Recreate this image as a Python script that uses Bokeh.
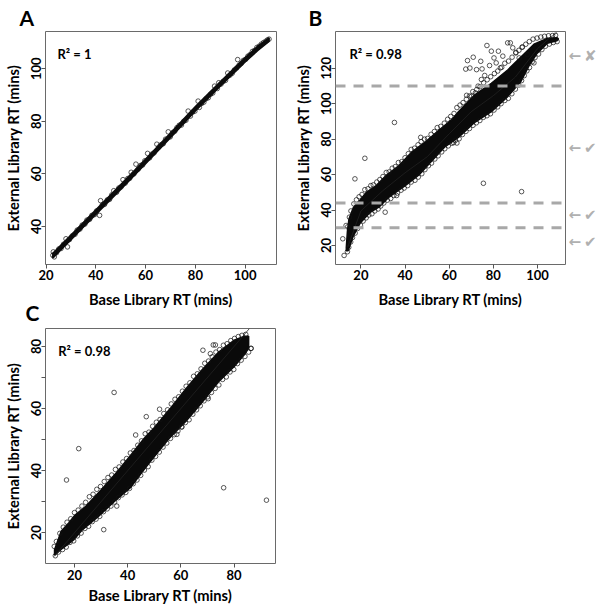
from bokeh.plotting import figure
from bokeh.layouts import column, row
from bokeh.models import Range1d, FixedTicker, Label, Span, LinearAxis
from bokeh.embed import file_html
from bokeh.resources import INLINE

# ---------------- data ----------------
# Panel A: narrow band (core) and individual points
A_band_x = [22.7, 30, 40, 50, 60, 70, 80, 90, 100, 105, 109.6]
A_band_hi = [29.8, 36.7, 46.3, 55.9, 65.7, 75.6, 85.6, 95.1, 104.3, 108.6, 111.8]
A_band_lo = [28.0, 34.9, 44.5, 54.1, 63.9, 73.8, 83.9, 93.4, 102.6, 106.9, 110.4]
A_pts = [(22.7, 29.0), (22.9, 30.3), (23.3, 28.4), (24.2, 30.0), (25.1, 31.4), (26.0, 31.6),
         (27.0, 33.2), (28.0, 35.3), (28.6, 32.2), (29.4, 35.0), (30.5, 36.4), (31.6, 37.0),
         (32.5, 38.6), (33.6, 39.0), (34.5, 40.5), (35.6, 40.9), (36.4, 42.4), (37.5, 42.7),
         (38.4, 44.2), (39.5, 44.5), (40.3, 45.9), (41.5, 44.2), (41.9, 49.8), (42.6, 48.2),
         (43.5, 48.4), (44.6, 50.1), (45.5, 50.3), (46.4, 52.0), (47.2, 53.6), (48.3, 53.0),
         (49.2, 54.6), (50.1, 55.0), (50.9, 57.8), (51.8, 56.5), (52.8, 58.2), (53.6, 58.3),
         (54.2, 60.6), (55.3, 60.0), (56.1, 63.7), (57.0, 61.8), (57.9, 63.2), (58.8, 63.4),
         (59.7, 65.0), (60.8, 67.8), (61.6, 66.1), (62.5, 67.5), (63.4, 68.0), (64.5, 71.3),
         (65.3, 70.2), (66.2, 71.1), (67.1, 71.5), (68.0, 73.2), (69.1, 76.0), (69.9, 74.1),
         (70.8, 75.7), (71.7, 76.2), (72.6, 77.6), (73.5, 78.5), (74.4, 78.6), (75.3, 80.0),
         (76.2, 80.4), (77.1, 83.9), (78.0, 82.0), (78.9, 83.5), (79.8, 83.9), (81.1, 87.7),
         (81.6, 85.3), (82.5, 86.8), (83.4, 87.3), (84.3, 88.6), (85.2, 89.0), (86.1, 90.3),
         (87.0, 90.8), (87.7, 93.4), (88.8, 92.5), (89.4, 94.7), (90.3, 94.2), (91.2, 95.2),
         (92.1, 95.6), (93.0, 98.4), (93.9, 97.6), (94.8, 98.3), (95.7, 99.6), (96.6, 100.3),
         (97.0, 103.5), (97.5, 101.3), (98.4, 102.0), (99.3, 103.2), (100.2, 103.6), (101.1, 104.8),
         (102.0, 105.4), (102.9, 106.6), (103.8, 107.0), (104.7, 108.1), (105.6, 108.6),
         (106.5, 109.4), (107.4, 110.0), (108.3, 110.5), (109.0, 111.0), (109.6, 111.3)]

# Panel B: dense core envelope, trend line, points
B_core_up = [(13.4, 19.0), (13.9, 28.0), (14.6, 35.0), (16.6, 41.5), (19.6, 45.5), (22.5, 50.0),
             (27.0, 53.8), (31.4, 59.5), (37.4, 65.2), (43.3, 73.0), (49.3, 78.5), (55.3, 85.0),
             (61.2, 91.0), (64.2, 95.5), (71.6, 105.0), (79.1, 111.5), (86.5, 119.0),
             (93.9, 128.0), (98.4, 133.5), (104.4, 136.8), (108.8, 137.2), (109.5, 136.5)]
B_core_lo = [(13.4, 17.0), (14.2, 17.0), (16.6, 25.5), (19.6, 32.5), (24.0, 38.5), (28.5, 42.0),
             (32.9, 47.5), (40.4, 54.0), (46.3, 59.8), (52.3, 68.0), (58.2, 75.8), (64.2, 81.0),
             (71.6, 89.5), (79.1, 95.5), (86.5, 104.0), (92.5, 112.5), (96.2, 121.5),
             (99.9, 128.5), (104.4, 134.0), (108.8, 135.5), (109.5, 136.5)]
B_trend_x = [14, 20, 30, 40, 50, 60, 70, 80, 90, 100, 105, 108.8]
B_trend_y = [19, 39.5, 51, 61, 70, 83, 95.5, 104.5, 115, 131, 136.5, 140]
B_pts = [(14.0, 30.5), (14.8, 36.0), (15.5, 39.5), (16.8, 43.5), (18.0, 45.8), (19.2, 47.5),
         (20.5, 48.8), (21.8, 51.5), (23.2, 52.0), (24.5, 53.8), (25.6, 54.2), (27.2, 55.8),
         (28.6, 57.2), (30.0, 58.9), (31.5, 61.2), (32.8, 61.5), (34.2, 63.6), (35.6, 64.5),
         (37.0, 66.8), (38.5, 67.3), (40.0, 69.5), (41.5, 71.8), (42.8, 74.2), (44.3, 74.9),
         (45.9, 76.8), (47.3, 78.6), (48.8, 80.0), (50.2, 80.4), (51.8, 82.7), (53.3, 84.3),
         (54.6, 86.5), (56.2, 87.2), (57.8, 89.0), (59.3, 91.2), (60.7, 92.8), (62.2, 94.5),
         (63.5, 97.8), (64.9, 99.2), (66.3, 100.6), (67.8, 102.5), (69.2, 104.3), (70.7, 106.8),
         (72.5, 108.0), (74.0, 109.6), (75.6, 111.8), (77.2, 113.5), (78.8, 115.2), (80.5, 117.0),
         (82.0, 118.4), (83.8, 120.5), (85.2, 122.8), (86.9, 124.0), (88.5, 126.2), (90.2, 128.9),
         (91.6, 130.1), (93.0, 131.8), (94.7, 133.5), (96.3, 135.0), (98.0, 136.4), (99.8, 137.0),
         (101.5, 137.6), (103.2, 138.0), (105.0, 138.3), (106.8, 138.4), (108.2, 138.6),
         (13.9, 16.5), (14.5, 19.0), (15.4, 22.0), (16.2, 24.5), (17.4, 27.0), (18.5, 29.6),
         (19.8, 31.5), (21.0, 33.8), (22.4, 35.6), (23.6, 37.2), (25.0, 37.9), (26.3, 39.5),
         (27.8, 40.6), (29.0, 42.3), (30.4, 44.0), (32.0, 45.6), (33.5, 46.5), (34.9, 48.2),
         (36.6, 49.6), (38.2, 51.2), (39.6, 52.4), (41.2, 53.8), (42.8, 55.8), (44.5, 56.8),
         (46.0, 58.6), (47.6, 60.5), (49.0, 62.8), (50.6, 65.0), (52.0, 66.5), (53.5, 68.8),
         (55.0, 70.6), (56.6, 72.8), (58.0, 74.6), (59.6, 76.2), (61.2, 77.7), (62.8, 79.3),
         (64.5, 80.2), (66.0, 82.6), (67.6, 84.4), (69.2, 86.0), (70.8, 87.8), (72.3, 89.2),
         (73.9, 90.5), (75.5, 92.3), (77.1, 93.2), (78.7, 94.3), (80.3, 96.4), (82.0, 98.2),
         (83.5, 100.0), (85.2, 101.8), (86.8, 103.0), (88.4, 105.6), (90.0, 108.2), (91.5, 110.5),
         (92.8, 113.0), (94.0, 115.8), (95.2, 118.5), (96.4, 120.4), (97.6, 123.6), (98.9, 126.0),
         (100.5, 128.0), (102.0, 130.5), (103.6, 132.4), (105.4, 133.6), (107.2, 134.5),
         (108.9, 135.0),
         (67.5, 119.5), (68.3, 124.3), (70.9, 126.2), (69.4, 120.1), (72.4, 119.2), (74.3, 123.9),
         (74.9, 119.6), (76.1, 115.9), (77.1, 132.8), (78.3, 121.5), (79.1, 129.6), (80.3, 125.8),
         (81.3, 123.0), (82.3, 129.6), (83.2, 120.2), (84.3, 126.8), (86.5, 134.3), (87.7, 134.3),
         (88.8, 131.5), (90.2, 128.6), (91.7, 125.8), (93.2, 132.0), (95.4, 127.7), (98.4, 123.0),
         (67.9, 104.7), (70.1, 104.2), (71.9, 106.1), (73.1, 109.9), (74.6, 113.6),
         (12.4, 14.4), (11.8, 23.8), (13.3, 31.3), (17.3, 57.6), (21.8, 69.2), (35.2, 89.4),
         (31.0, 38.8), (47.1, 81.0), (36.2, 48.2), (75.5, 55.1), (92.8, 50.4), (62.0, 78.0),
         (63.5, 77.8)]
B_cutoffs = [110, 44, 30]
B_mark_y = [127, 75, 37, 22]
B_mark_text = ["\u2190\u2009\u2718", "\u2190\u2009\u2714", "\u2190\u2009\u2714", "\u2190\u2009\u2714"]

# Panel C: dense core envelope, identity fit, points
C_core_up = [(12.5, 14.5), (15.0, 20.5), (18.0, 23.3), (20.0, 25.5), (24.0, 28.3), (30.0, 33.8),
             (36.0, 39.6), (41.0, 44.8), (45.8, 50.0), (50.0, 53.8), (56.0, 60.0), (62.0, 66.5),
             (68.0, 72.5), (74.0, 78.0), (80.0, 82.0), (84.0, 83.3), (85.5, 83.3)]
C_core_lo = [(12.5, 12.8), (15.5, 15.0), (19.8, 17.8), (22.8, 20.8), (28.9, 25.2), (34.9, 30.0),
             (41.0, 34.5), (45.8, 40.0), (50.7, 45.3), (55.5, 50.3), (62.0, 56.0), (68.0, 62.0),
             (74.0, 68.5), (80.0, 73.5), (84.0, 77.5), (85.5, 79.5)]
C_fit_slope = 1.0
C_fit_intercept = 0.0
C_pts = [(12.4, 15.6), (13.2, 17.2), (14.5, 19.8), (15.8, 21.8), (17.2, 23.4), (18.6, 24.5),
         (20.0, 26.5), (21.4, 27.3), (22.8, 28.6), (24.2, 29.8), (25.6, 31.6), (27.0, 32.4),
         (28.4, 34.0), (29.8, 34.9), (31.2, 36.5), (32.6, 37.8), (34.0, 38.6), (35.4, 40.4),
         (36.8, 41.2), (38.2, 42.8), (39.6, 43.9), (41.0, 45.7), (42.4, 46.5), (43.8, 48.2),
         (45.2, 49.6), (46.6, 51.9), (48.0, 52.4), (49.4, 54.3), (50.8, 55.6), (52.2, 56.5),
         (53.6, 58.4), (55.0, 59.6), (56.4, 61.5), (57.8, 63.0), (59.2, 63.8), (60.6, 65.6),
         (62.0, 67.2), (63.4, 68.3), (64.8, 70.4), (66.2, 71.2), (67.6, 72.8), (69.0, 74.6),
         (70.4, 75.3), (71.8, 76.7), (73.2, 78.2), (74.6, 79.0), (76.0, 80.4), (77.4, 80.9),
         (78.8, 81.9), (80.2, 82.6), (81.6, 83.2), (83.0, 83.6), (84.4, 83.9), (73.0, 80.5),
         (72.2, 80.5),
         (12.8, 12.6), (14.0, 13.8), (15.5, 14.6), (16.9, 15.4), (18.3, 16.9), (19.7, 17.4),
         (21.1, 19.0), (22.5, 19.9), (23.9, 21.4), (25.3, 22.1), (26.7, 23.6), (28.1, 24.4),
         (29.5, 25.3), (30.9, 26.8), (32.3, 27.7), (33.7, 28.6), (35.1, 29.9), (36.5, 31.3),
         (37.9, 32.2), (39.3, 33.0), (40.7, 34.3), (42.1, 35.8), (43.5, 37.0), (44.9, 38.5),
         (46.3, 40.2), (47.7, 41.3), (49.1, 43.4), (50.5, 44.6), (51.9, 46.0), (53.3, 47.6),
         (54.7, 48.9), (56.1, 50.4), (57.5, 51.6), (58.9, 52.8), (60.3, 54.1), (61.7, 55.5),
         (63.1, 56.4), (64.5, 58.2), (65.9, 59.6), (67.3, 60.9), (68.7, 62.5), (70.1, 63.8),
         (71.5, 65.2), (72.9, 66.5), (74.3, 67.6), (75.7, 69.4), (77.1, 70.2), (78.5, 71.8),
         (79.9, 72.6), (81.3, 74.5), (82.7, 75.6), (84.1, 76.8), (85.5, 78.2), (86.4, 79.4),
         (34.9, 65.2), (21.6, 47.1), (17.0, 37.0), (31.0, 21.0), (35.9, 28.6), (76.1, 34.5),
         (92.2, 30.5), (47.0, 57.4), (58.5, 51.7), (60.4, 54.1), (70.3, 63.2), (68.3, 78.8),
         (71.1, 77.7), (86.4, 79.4), (43.0, 51.5), (52.0, 59.8)]

A_xticks = [20, 40, 60, 80, 100]
A_yticks = [40, 60, 80, 100]
B_xticks = [20, 40, 60, 80, 100]
B_yticks = [20, 40, 60, 80, 100, 120]
C_xticks = [20, 40, 60, 80]
C_yticks = [20, 30, 40, 50, 60, 70, 80]
C_ylabels = {20: "20", 30: "", 40: "40", 50: "", 60: "60", 70: "", 80: "80"}

FONT = "Lato"
XTITLE = "Base Library RT (mins)"
YTITLE = "External Library RT (mins)"


def make(w, h, xr, yr, mb, letter, letter_offset, letter_standoff):
    p = figure(width=w, height=h, x_range=Range1d(*xr), y_range=Range1d(*yr),
               output_backend="svg", toolbar_location=None,
               min_border_top=mb[0], min_border_right=mb[1],
               min_border_bottom=mb[2], min_border_left=mb[3])
    p.grid.visible = False
    p.outline_line_color = "#6a6a6a"
    p.outline_line_width = 1
    p.border_fill_color = None
    for ax in (p.xaxis[0], p.yaxis[0]):
        ax.axis_line_color = None
        ax.major_tick_line_color = "#555555"
        ax.major_tick_in = 0
        ax.major_tick_out = 4
        ax.minor_tick_line_color = None
        ax.major_label_text_font = FONT
        ax.major_label_text_font_style = "bold"
        ax.major_label_text_font_size = "13px"
        ax.major_label_text_color = "black"
        ax.axis_label_text_font = FONT
        ax.axis_label_text_font_style = "bold"
        ax.axis_label_text_font_size = "14.7px"
        ax.axis_label_text_color = "black"
    p.xaxis.axis_label = XTITLE
    p.yaxis.axis_label = YTITLE
    p.yaxis.major_label_orientation = "vertical"
    p.xaxis.major_label_standoff = 1
    p.yaxis.major_label_standoff = 0
    p.xaxis.axis_label_standoff = 7
    p.yaxis.axis_label_standoff = 7
    p.title.text = letter
    p.title.align = "left"
    p.title.vertical_align = "top"
    p.title.offset = letter_offset
    p.title.standoff = letter_standoff
    p.title.text_font = FONT
    p.title.text_font_style = "bold"
    p.title.text_font_size = "21px"
    p.title.text_color = "black"
    return p


def scatter_pts(p, pts):
    p.scatter([q[0] for q in pts], [q[1] for q in pts], marker="circle", size=4.6,
              fill_color=None, line_color="#111111", line_width=0.7)


def core(p, up, lo):
    xs = [q[0] for q in up] + [q[0] for q in reversed(lo)]
    ys = [q[1] for q in up] + [q[1] for q in reversed(lo)]
    p.patch(xs, ys, fill_color="#0a0a0a", line_color="#0a0a0a", line_width=1.5)


def lab(p, text, x, y, size):
    p.add_layout(Label(x=x, y=y, x_units="screen", y_units="screen", text=text,
                       text_font=FONT, text_font_style="bold", text_font_size=size,
                       text_color="black", text_align="left", text_baseline="alphabetic"))


# ---------------- Panel A ----------------
pA = make(290, 324, (19.76, 112.6), (25.5, 114.2), (30, 14, 60, 43), "A", -26, 0)
pA.xaxis.ticker = FixedTicker(ticks=A_xticks)
pA.yaxis.ticker = FixedTicker(ticks=A_yticks)
pA.patch(A_band_x + A_band_x[::-1], A_band_hi + A_band_lo[::-1],
         fill_color="#0a0a0a", line_color="#0a0a0a", line_width=1.5)
scatter_pts(pA, A_pts)
lab(pA, "R² = 1", 12, 211, "13px")

# ---------------- Panel B ----------------
pB = make(310, 324, (8.5, 112.7), (9.3, 140.7), (31, 35, 60, 42), "B", -27, 0)
pB.xaxis.ticker = FixedTicker(ticks=B_xticks)
pB.yaxis.ticker = FixedTicker(ticks=B_yticks)
core(pB, B_core_up, B_core_lo)
scatter_pts(pB, B_pts)
pB.line(B_trend_x, B_trend_y, line_color="#222222", line_width=0.8)
for yv in B_cutoffs:
    pB.add_layout(Span(location=yv, dimension="width", line_color="#a8a8a8",
                       line_width=3, line_dash="10 8"))
lab(pB, "R² = 0.98", 14, 210.4, "13px")
mark_axis = LinearAxis(ticker=FixedTicker(ticks=B_mark_y),
                       major_label_overrides=dict(zip(B_mark_y, B_mark_text)))
mark_axis.axis_line_color = None
mark_axis.major_tick_line_color = None
mark_axis.minor_tick_line_color = None
mark_axis.major_tick_out = 0
mark_axis.major_tick_in = 0
mark_axis.major_label_standoff = 3
mark_axis.major_label_text_font = "DejaVu Sans"
mark_axis.major_label_text_font_style = "bold"
mark_axis.major_label_text_font_size = "15px"
mark_axis.major_label_text_color = "#b0b0b0"
pB.add_layout(mark_axis, "right")

# ---------------- Panel C ----------------
pC = make(290, 320, (9.1, 95.6), (10.1, 85.8), (34, 15, 51, 37), "C", -20, 4)
pC.xaxis.ticker = FixedTicker(ticks=C_xticks)
pC.yaxis.ticker = FixedTicker(ticks=C_yticks)
pC.yaxis.major_label_overrides = C_ylabels
pC.xaxis.major_label_standoff = 2
pC.xaxis.axis_label_standoff = 3
pC.margin = (-30, 0, -6, 0)
core(pC, C_core_up, C_core_lo)
scatter_pts(pC, C_pts)
x0 = min(q[0] for q in C_pts)
x1 = (pC.y_range.end - C_fit_intercept) / C_fit_slope
pC.line([x0, x1], [C_fit_intercept + C_fit_slope * x0, C_fit_intercept + C_fit_slope * x1],
        line_color="#222222", line_width=0.8)
lab(pC, "R² = 0.98", 12.7, 212.7, "13px")

layout = column(row(pA, pB), pC)
layout.styles = {"overflow": "hidden"}

open("out.html", "w").write(file_html(layout, INLINE))
